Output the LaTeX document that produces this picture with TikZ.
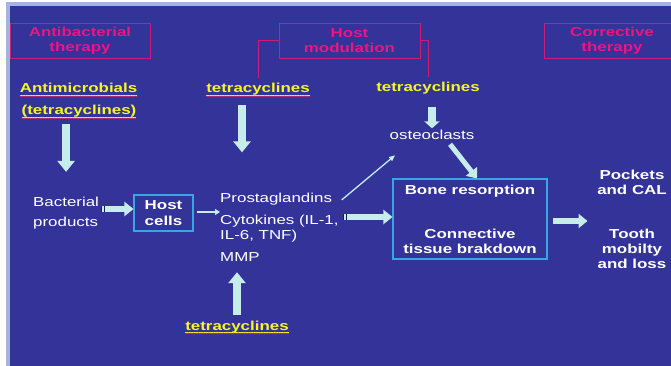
\documentclass[tikz,border=0pt]{standalone}
\usepackage{fontspec}
\setmainfont[FakeStretch=1.3]{Liberation Sans}
\usetikzlibrary{arrows.meta,positioning,decorations.pathmorphing}
\definecolor{slidebg}{RGB}{51,51,153}
\definecolor{slideedge}{RGB}{165,180,222}
\definecolor{headpink}{RGB}{238,20,130}
\definecolor{headline}{RGB}{200,30,120}
\definecolor{drugyellow}{RGB}{245,245,40}
\definecolor{spellred}{RGB}{205,45,95}
\definecolor{arrowfill}{RGB}{198,236,236}
\definecolor{stripedark}{RGB}{30,30,70}
\definecolor{boxcyan}{RGB}{55,165,230}

\begin{document}
\begin{tikzpicture}[x=1pt,y=-1pt,
  every node/.style={inner sep=0pt},
  headbox/.style={draw=headline,line width=0.9pt,minimum height=35pt,text=headpink,
    font=\fontsize{13}{15}\selectfont\bfseries,align=center},
  drug/.style={text=drugyellow,font=\fontsize{13}{15}\selectfont\bfseries},
  plain/.style={text=white,font=\fontsize{13}{15}\selectfont},
  cellbox/.style={draw=boxcyan,line width=1.1pt,text=white,
    font=\fontsize{13}{16}\selectfont\bfseries,align=center},
  result/.style={text=white,font=\fontsize{13}{15}\selectfont\bfseries,align=center},
  bracket/.style={draw=headline,line width=0.8pt},
  uline/.style={draw=drugyellow,line width=0.6pt},
  squiggle/.style={draw=spellred,line width=0.5pt,decorate,
    decoration={snake,amplitude=0.6pt,segment length=2.5pt}},
  fatarr/.style={draw=arrowfill,line width=8pt,-{Triangle[width=17pt,length=11pt]}},
  stubarr/.style={draw=arrowfill,line width=8pt,-{Triangle[width=15pt,length=7pt]}},
  midarr/.style={draw=arrowfill,line width=6pt,-{Triangle[width=14pt,length=9pt]}},
  stripearr/.style={midarr,postaction={draw=stripedark,-,dash pattern=on 1.2pt off 1.6pt on 1.2pt off 300pt}},
  smallarr/.style={draw=arrowfill,line width=2.5pt,-{Triangle[width=6pt,length=5pt]}},
  thinarr/.style={draw=arrowfill,line width=1.3pt,-{Triangle[width=5pt,length=6pt]}}
]
  % Slide background
  \path[use as bounding box] (0,0) rectangle (671,366);
  \fill[white] (0,0) rectangle (671,366);
  \fill[slideedge] (6,2) rectangle (671,366);
  \fill[slidebg] (10,6) rectangle (671,366);

  % Therapy headings
  \node[headbox,minimum width=140pt] (abxTher) at (80,40.5) {Antibacterial\\therapy};
  \node[headbox,minimum width=141pt] (hostMod) at (349.5,40.5) {Host\\modulation};
  \node[headbox,minimum width=136pt] (corrTher) at (612,41) {Corrective\\therapy};

  % Drugs
  \node[drug,anchor=base] (antimic) at (78.5,93) {Antimicrobials};
  \node[drug,anchor=base] (antimicTet) at (79,115) {(tetracyclines)};
  \node[drug,anchor=base] (tetraMid) at (258,93) {tetracyclines};
  \node[drug,anchor=base] (tetraOst) at (428,92) {tetracyclines};
  \node[drug,anchor=base] (tetraLow) at (237,330) {tetracyclines};
  \foreach \w in {antimic,antimicTet,tetraMid,tetraLow}{
    \draw[uline] ([yshift=-2pt]\w.base west) -- ([yshift=-2pt]\w.base east);
    \draw[squiggle] ([yshift=-3.5pt]\w.base west) -- ([yshift=-3.5pt]\w.base east);
  }

  % Pathway (multi-line nodes sit on their last baseline)
  \node[plain,anchor=base] (osteo) at (432,140) {osteoclasts};
  \node[plain,anchor=base west,align=left] (bactProd) at (33,226) {Bacterial\\[5pt]products};
  \node[cellbox,minimum width=59pt,minimum height=36pt] (hostCells) at (163.5,213) {Host\\cells};
  \node[plain,anchor=base west,align=left] (mediators) at (220,261)
    {Prostaglandins\\[7pt]Cytokines (IL-1,\\IL-6, TNF)\\[7pt]MMP};
  \node[cellbox,font=\fontsize{13}{15}\selectfont\bfseries,minimum width=154pt,minimum height=80pt]
    (boneBox) at (470,219) {Bone resorption\\[29pt]Connective\\tissue brakdown};
  \node[result,anchor=base] (pockets) at (632,194) {Pockets\\and CAL};
  \node[result,anchor=base] (tooth) at (632,268) {Tooth\\mobilty\\and loss};

  % Brackets from host modulation
  \draw[bracket] (hostMod.west) -| ([yshift=5pt]tetraMid.north);
  \draw[bracket] (hostMod.east) -| ([yshift=5pt]tetraOst.north);

  % Arrows
  \draw[fatarr,shorten <=6.5pt,shorten >=24.5pt] (antimicTet.south -| bactProd.north) -- (bactProd.north);
  \draw[fatarr,shorten <=9pt,shorten >=40pt] ([xshift=-16pt]tetraMid.south) -- ([xshift=-16pt]tetraMid.south |- mediators.north);
  \draw[stubarr,shorten <=12pt,shorten >=2pt] (tetraOst.south -| osteo.north) -- (osteo.north);
  \draw[midarr,line width=5pt,shorten <=5pt] ([xshift=15pt]osteo.south) -- ([xshift=7pt]boneBox.north);
  \draw[thinarr] ([xshift=3pt,yshift=-7.5pt]mediators.north east) -- ([xshift=-37pt,yshift=-15pt]osteo.south);
  \draw[stripearr,shorten <=2pt] ([yshift=4pt]hostCells.west -| bactProd.east) -- ([yshift=4pt]hostCells.west);
  \draw[smallarr,shorten <=3pt] ([yshift=1pt]hostCells.east) -- ([yshift=1pt]hostCells.east -| mediators.west);
  \draw[stripearr,shorten <=4pt] ([yshift=2pt]boneBox.west -| mediators.east) -- ([yshift=2pt]boneBox.west);
  \draw[fatarr,shorten <=5pt,shorten >=11pt] (tetraLow.north) -- (tetraLow.north |- mediators.south);
  \draw[midarr,shorten <=5pt,shorten >=10pt] ([yshift=-2pt]boneBox.east) -- ([yshift=-2pt]boneBox.east -| tooth.west);
\end{tikzpicture}
\end{document}
